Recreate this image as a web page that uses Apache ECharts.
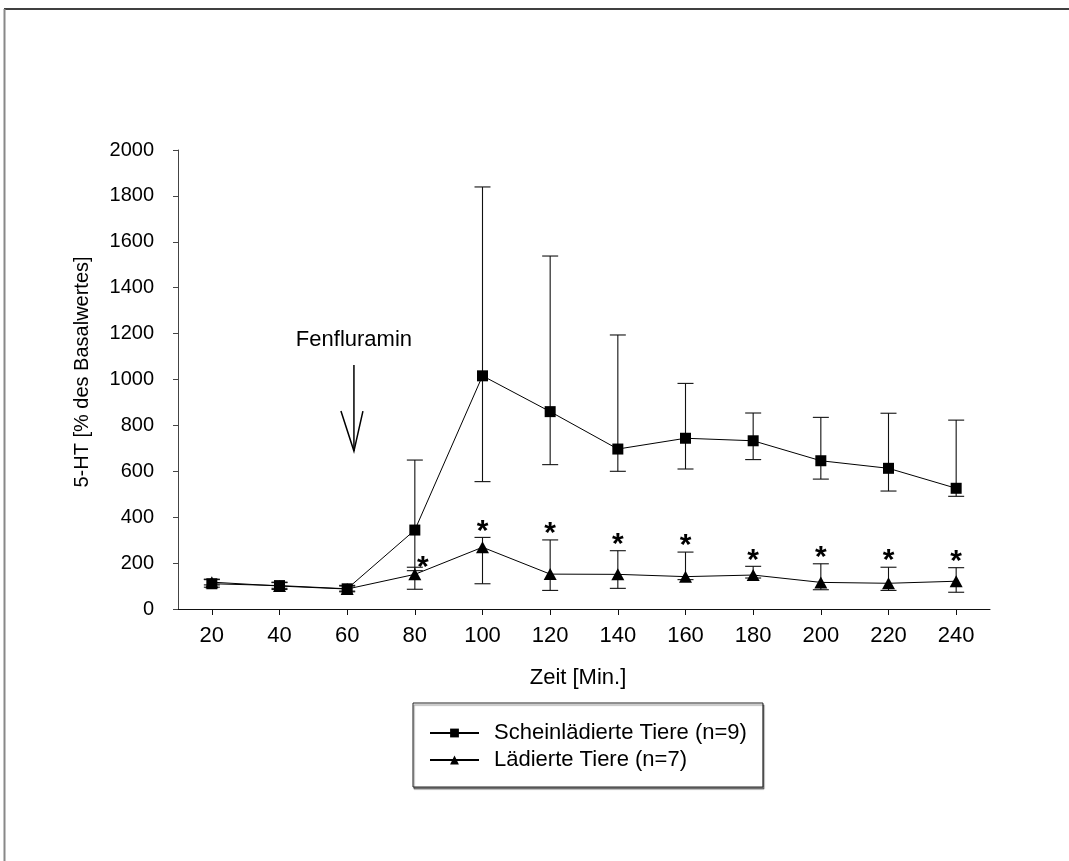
<!DOCTYPE html>
<html>
<head>
<meta charset="utf-8">
<script src="https://cdn.jsdelivr.net/npm/echarts@6/dist/echarts.min.js"></script>
<style>
  html, body { margin: 0; padding: 0; background: #fff; }
  #chart { width: 1069px; height: 861px; }
</style>
</head>
<body>
<div id="chart"></div>
<script>
// Sampling times after start of the experiment (minutes)
const minutes = [20, 40, 60, 80, 100, 120, 140, 160, 180, 200, 220, 240];

// Sham-lesioned animals: mean and error range, % of baseline 5-HT
const shamMean = [110, 102, 88, 344, 1016, 860, 697, 744, 733, 646, 613, 526];
const shamLow  = [95, 90, 78, 167, 555, 629, 600, 610, 651, 566, 514, 491];
const shamHigh = [128, 115, 100, 649, 1839, 1538, 1194, 983, 854, 835, 853, 823];

// Lesioned animals: mean and error range, % of baseline 5-HT
const lesMean = [117, 100, 87, 151, 269, 152, 151, 141, 148, 116, 112, 121];
const lesLow  = [105, 85, 75, 86, 110, 81, 90, 128, 135, 84, 81, 73];
const lesHigh = [130, 117, 103, 182, 312, 301, 254, 248, 186, 197, 182, 180];

// Significant difference between the groups (marked with *)
const significant = [0, 0, 0, 1, 1, 1, 1, 1, 1, 1, 1, 1];

// Drug injection marker: time and vertical extent of the arrow
const injectionTime = 62;
const arrowTopValue = 1063;
const arrowTipValue = 688;
const injectionLabelValue = 1172;

const seriesNames = ['Scheinlädierte Tiere (n=9)', 'Lädierte Tiere (n=7)'];
const yAxisTitle = '5-HT [% des Basalwertes]';
const xAxisTitle = 'Zeit [Min.]';
const injectionLabel = 'Fenfluramin';

const FONT = '"Liberation Sans", Arial, Helvetica, sans-serif';
const INK = '#000';

const chart = echarts.init(document.getElementById('chart'), null, { renderer: 'canvas' });

function errorBars(low, high) {
  return {
    type: 'custom',
    silent: true,
    z: 2,
    data: minutes.map((m, i) => [m, low[i], high[i]]),
    renderItem: function (params, api) {
      const lo = api.coord([api.value(0), api.value(1)]);
      const hi = api.coord([api.value(0), api.value(2)]);
      const half = 8;
      const st = { stroke: '#111', lineWidth: 1.1 };
      return {
        type: 'group',
        children: [
          { type: 'line', shape: { x1: lo[0], y1: lo[1], x2: hi[0], y2: hi[1] }, style: st },
          { type: 'line', shape: { x1: hi[0] - half, y1: hi[1], x2: hi[0] + half, y2: hi[1] }, style: st },
          { type: 'line', shape: { x1: lo[0] - half, y1: lo[1], x2: lo[0] + half, y2: lo[1] }, style: st }
        ]
      };
    }
  };
}

const starData = [];
minutes.forEach((m, i) => { if (significant[i]) starData.push([m, lesHigh[i], i]); });

const option = {
  animation: false,
  backgroundColor: '#fff',
  textStyle: { fontFamily: FONT },
  grid: { left: 178, right: 79, top: 150, bottom: 252, containLabel: false, outerBoundsMode: 'none' },
  legend: {
    data: seriesNames,
    orient: 'vertical',
    left: 413,
    top: 703,
    padding: [19, 16, 16, 16],
    itemWidth: 49,
    itemHeight: 11,
    itemGap: 5,
    borderColor: '#222',
    borderWidth: 1,
    backgroundColor: '#fff',
    shadowColor: 'rgba(0,0,0,0.45)',
    shadowBlur: 1,
    shadowOffsetX: 1,
    shadowOffsetY: 2,
    selectedMode: false,
    textStyle: { fontSize: 22, color: INK, fontFamily: FONT, lineHeight: 22, padding: [0, 0, 0, 10] }
  },
  xAxis: {
    type: 'value',
    min: 10,
    max: 250,
    splitLine: { show: false },
    axisLine: { show: true, onZero: false, lineStyle: { color: '#111', width: 1 } },
    axisTick: { show: true, length: 6, customValues: minutes, lineStyle: { color: '#111' } },
    axisLabel: { customValues: minutes, fontSize: 22, color: INK, fontFamily: FONT, margin: 16 }
  },
  yAxis: {
    type: 'value',
    min: 0,
    max: 2000,
    interval: 200,
    splitLine: { show: false },
    axisLine: { show: true, lineStyle: { color: '#444', width: 1 } },
    axisTick: { show: true, length: 5, lineStyle: { color: '#444' } },
    axisLabel: { fontSize: 20, color: INK, fontFamily: FONT, margin: 24, formatter: v => String(v) }
  },
  graphic: [
    // page frame
    { type: 'line', shape: { x1: 4, y1: 9, x2: 1069, y2: 9 }, style: { stroke: '#000', lineWidth: 1.3 }, silent: true },
    { type: 'line', shape: { x1: 4.5, y1: 9, x2: 4.5, y2: 861 }, style: { stroke: '#888', lineWidth: 2 }, silent: true },
    // axis titles
    {
      type: 'text', x: 82, y: 372, rotation: Math.PI / 2,
      style: { text: yAxisTitle, font: '20px ' + FONT, fill: INK, align: 'center', verticalAlign: 'middle' }
    },
    {
      type: 'text', x: 578, y: 678,
      style: { text: xAxisTitle, font: '22px ' + FONT, fill: INK, align: 'center', verticalAlign: 'middle' }
    }
  ],
  series: [
    errorBars(shamLow, shamHigh),
    errorBars(lesLow, lesHigh),
    {
      name: seriesNames[0],
      type: 'line',
      z: 4,
      data: minutes.map((m, i) => [m, shamMean[i]]),
      symbol: 'rect',
      symbolSize: 11,
      showSymbol: true,
      lineStyle: { color: INK, width: 1 },
      itemStyle: { color: INK, borderWidth: 0 },
      emphasis: { disabled: true }
    },
    {
      name: seriesNames[1],
      type: 'line',
      z: 4,
      data: minutes.map((m, i) => [m, lesMean[i]]),
      symbol: 'triangle',
      symbolSize: [13, 12],
      showSymbol: true,
      lineStyle: { color: INK, width: 1 },
      itemStyle: { color: INK, borderWidth: 0 },
      emphasis: { disabled: true }
    },
    {
      // significance asterisks above the upper error cap
      type: 'custom',
      silent: true,
      z: 5,
      data: starData,
      renderItem: function (params, api) {
        const p = api.coord([api.value(0), api.value(1)]);
        const idx = api.value(2);
        let dx = 0, dy = -6;
        if (minutes[idx] === 80) { dx = 8; dy = 1; }
        return {
          type: 'text',
          style: {
            text: '*', x: p[0] + dx, y: p[1] + dy,
            font: 'bold 30px ' + FONT, fill: INK, align: 'center', verticalAlign: 'middle'
          }
        };
      }
    },
    {
      // injection arrow with its label
      type: 'custom',
      silent: true,
      z: 5,
      data: [[injectionTime, arrowTopValue, arrowTipValue, injectionLabelValue]],
      renderItem: function (params, api) {
        const top = api.coord([api.value(0), api.value(1)]);
        const tip = api.coord([api.value(0), api.value(2)]);
        const lab = api.coord([api.value(0), api.value(3)]);
        const st = { stroke: INK, lineWidth: 1.5 };
        return {
          type: 'group',
          children: [
            { type: 'line', shape: { x1: top[0], y1: top[1], x2: tip[0], y2: tip[1] }, style: st },
            { type: 'polyline', shape: { points: [[tip[0] - 13, tip[1] - 40], [tip[0], tip[1]], [tip[0] + 9, tip[1] - 40]] }, style: Object.assign({ fill: null }, st) },
            { type: 'text', style: { text: injectionLabel, x: lab[0], y: lab[1], font: '22px ' + FONT, fill: INK, align: 'center', verticalAlign: 'middle' } }
          ]
        };
      }
    }
  ]
};

chart.setOption(option);
</script>
</body>
</html>
